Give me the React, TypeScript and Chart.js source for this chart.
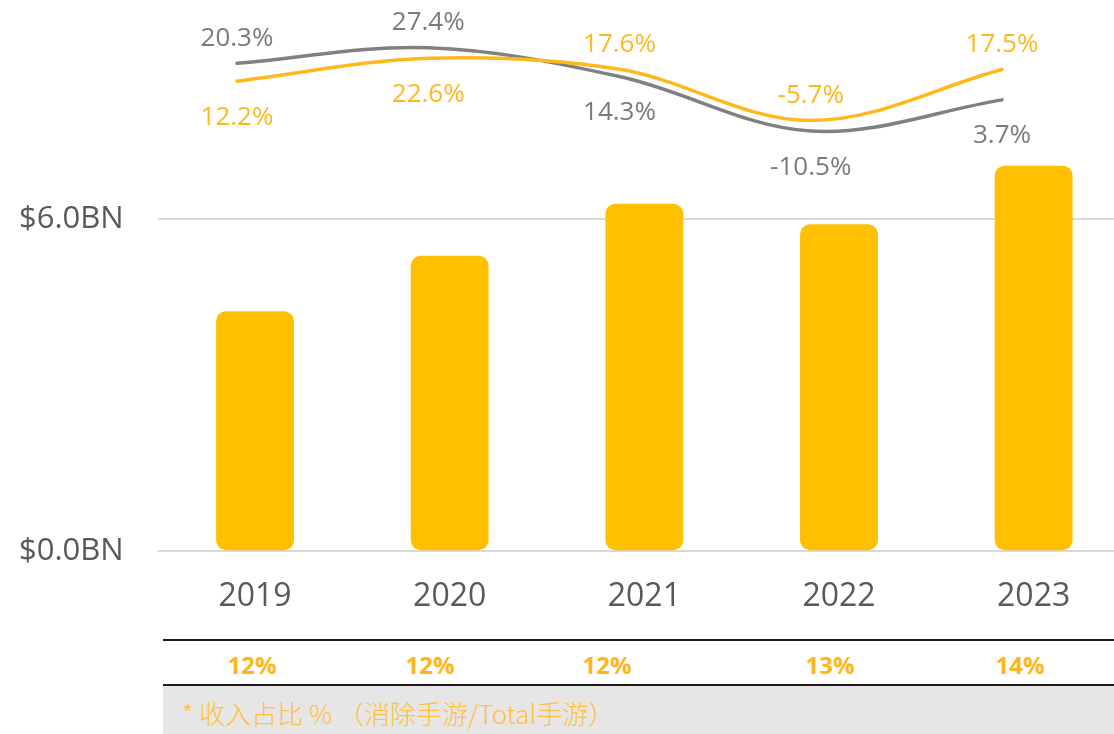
import React, { useEffect, useRef } from 'react';
import { Chart, registerables } from 'chart.js';

Chart.register(...registerables);

// ---------- data ----------
const categories = ['2019', '2020', '2021', '2022', '2023'];
const revenueBn = [4.34, 5.34, 6.28, 5.91, 6.97];
const revenueGrowthPct = [12.2, 22.6, 17.6, -5.7, 17.5];
const marketGrowthPct = [20.3, 27.4, 14.3, -10.5, 3.7];
const revenueShareLabels = ['12%', '12%', '12%', '13%', '14%'];
const yTickValues = [0, 6];
const footnote = '* 收入占比 % （消除手游/Total手游）';

// ---------- layout ----------
const CANVAS_W = 1131;
const CANVAS_H = 625;
const PLOT_LEFT = 157.7;
const PLOT_TOP = 60;
const PLOT_BOTTOM = 551.3;
const FONT = "'Open Sans', 'Noto Sans', sans-serif";
const shareColumnCenters = [252, 430, 607, 830, 1020];

const BAR_COLOR = '#ffc000';
const YELLOW_LINE = '#ffb81c';
const GRAY_LINE = '#808080';

const growthLabelsPlugin = {
  id: 'growthLabels',
  afterDatasetsDraw(chart: any) {
    const ctx = chart.ctx;
    const lineIdx = [1, 2];
    ctx.save();
    ctx.font = `26px ${FONT}`;
    ctx.textAlign = 'center';
    ctx.textBaseline = 'middle';
    lineIdx.forEach((di, k) => {
      const other = lineIdx[1 - k];
      const meta = chart.getDatasetMeta(di);
      const otherMeta = chart.getDatasetMeta(other);
      const ds = chart.data.datasets[di];
      meta.data.forEach((pt: any, i: number) => {
        const op = otherMeta.data[i];
        const above = pt.y <= op.y;
        const v = ds.data[i].y as number;
        ctx.fillStyle = ds.labelColor;
        ctx.fillText(v.toFixed(1) + '%', pt.x, above ? pt.y - 25 : pt.y + 36);
      });
    });
    ctx.restore();
  },
};

export default function App() {
  const canvasRef = useRef<HTMLCanvasElement | null>(null);

  useEffect(() => {
    document.body.style.margin = '0';
    document.body.style.overflow = 'hidden';
    if (!canvasRef.current) return;
    const pxPerBn = (PLOT_BOTTOM - 219.3) / 6;
    const yMax = (PLOT_BOTTOM - PLOT_TOP) / pxPerBn;
    const zeroPct = 108;
    const pxPerPct = 2.2;
    const y2Max = (zeroPct - PLOT_TOP) / pxPerPct;
    const y2Min = -(PLOT_BOTTOM - zeroPct) / pxPerPct;
    const lineFirstX = 237;
    const lineLastX = 1002;
    const unit = (lineLastX - lineFirstX) / (categories.length - 1);
    const x2Min = -(lineFirstX - PLOT_LEFT) / unit;
    const x2Max = categories.length - 1 + (CANVAS_W - lineLastX) / unit;

    const chart = new Chart(canvasRef.current, {
      type: 'bar',
      data: {
        labels: categories,
        datasets: [
          {
            type: 'bar',
            label: 'Revenue',
            data: revenueBn,
            backgroundColor: BAR_COLOR,
            borderRadius: 10,
            borderSkipped: false,
            barPercentage: 0.8,
            categoryPercentage: 0.5,
            grouped: false,
            xAxisID: 'x',
            yAxisID: 'y',
            order: 3,
          } as any,
          {
            type: 'line',
            label: 'Market growth',
            data: marketGrowthPct.map((v, i) => ({ x: i, y: v })),
            borderColor: GRAY_LINE,
            borderWidth: 3.5,
            borderCapStyle: 'round',
            tension: 0.35,
            pointRadius: 0,
            fill: false,
            clip: false,
            xAxisID: 'x2',
            yAxisID: 'y2',
            order: 2,
            labelColor: '#7a7a7a',
          } as any,
          {
            type: 'line',
            label: 'Revenue growth',
            data: revenueGrowthPct.map((v, i) => ({ x: i, y: v })),
            borderColor: YELLOW_LINE,
            borderWidth: 3.5,
            borderCapStyle: 'round',
            tension: 0.35,
            pointRadius: 0,
            fill: false,
            clip: false,
            xAxisID: 'x2',
            yAxisID: 'y2',
            order: 1,
            labelColor: '#ffb81c',
          } as any,
        ],
      },
      options: {
        responsive: false,
        animation: false,
        devicePixelRatio: 1,
        layout: { padding: { top: PLOT_TOP, left: 0, right: 0, bottom: 0 } },
        plugins: {
          legend: { display: false },
          tooltip: { enabled: false },
        },
        scales: {
          x: {
            type: 'category',
            offset: true,
            grid: { display: false, drawTicks: false },
            border: { display: false },
            ticks: {
              color: '#595959',
              font: { family: FONT, size: 32 },
              padding: 26,
            },
            afterFit: (scale: any) => {
              scale.height = CANVAS_H - PLOT_BOTTOM;
            },
          },
          x2: {
            type: 'linear',
            display: false,
            offset: false,
            grid: { offset: false },
            min: x2Min,
            max: x2Max,
          },
          y: {
            type: 'linear',
            min: 0,
            max: yMax,
            border: { display: false },
            grid: { color: '#d9d9d9', lineWidth: 2, drawTicks: false },
            afterBuildTicks: (scale: any) => {
              scale.ticks = yTickValues.map((v) => ({ value: v }));
            },
            afterFit: (scale: any) => {
              scale.width = PLOT_LEFT;
            },
            ticks: {
              color: '#595959',
              font: { family: FONT, size: 31 },
              padding: 34,
              callback: (v: any) => '$' + Number(v).toFixed(1) + 'BN',
            },
          },
          y2: {
            type: 'linear',
            display: false,
            min: y2Min,
            max: y2Max,
          },
        },
      } as any,
      plugins: [growthLabelsPlugin],
    });
    return () => chart.destroy();
  }, []);

  return (
    <div
      style={{
        position: 'absolute',
        left: 0,
        top: 0,
        width: 1114,
        height: 734,
        overflow: 'hidden',
        background: '#ffffff',
      }}
    >
      <canvas
        ref={canvasRef}
        width={CANVAS_W}
        height={CANVAS_H}
        style={{ display: 'block', width: CANVAS_W, height: CANVAS_H }}
      />
      <div style={{ position: 'absolute', left: 163, top: 639, width: 951, height: 2, background: '#1c1c1c' }} />
      {revenueShareLabels.map((t, i) => (
        <div
          key={t + i}
          style={{
            position: 'absolute',
            left: shareColumnCenters[i] - 60,
            width: 120,
            top: 648,
            height: 34,
            lineHeight: '34px',
            textAlign: 'center',
            fontFamily: FONT,
            fontWeight: 700,
            fontSize: 24,
            color: '#ffb619',
          }}
        >
          {t}
        </div>
      ))}
      <div style={{ position: 'absolute', left: 163, top: 684, width: 951, height: 2, background: '#1c1c1c' }} />
      <div style={{ position: 'absolute', left: 163, top: 686, width: 951, height: 48, background: '#e6e6e6' }} />
      <div
        style={{
          position: 'absolute',
          left: 182,
          top: 694,
          height: 38,
          lineHeight: '38px',
          fontFamily: "'Noto Sans CJK SC', 'Open Sans', sans-serif",
          fontWeight: 300,
          fontSize: 26,
          color: '#ffc03c',
          whiteSpace: 'pre',
        }}
      >
        {footnote}
      </div>
    </div>
  );
}
